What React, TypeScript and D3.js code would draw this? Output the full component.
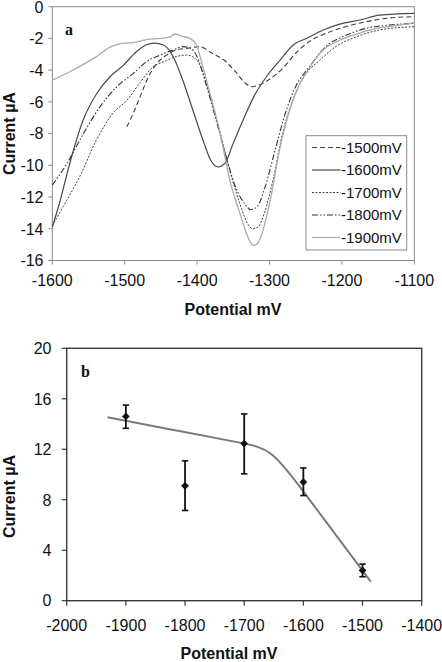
import React from 'react';
import * as d3 from 'd3';

// ---------- Panel a data ----------
const aXTicks = [-1600, -1500, -1400, -1300, -1200, -1100];
const aYTicks = [0, -2, -4, -6, -8, -10, -12, -14, -16];

const s1500: [number, number][] = [
  [-1497, -7.57], [-1488, -6.7], [-1479, -5.7], [-1467, -4.4], [-1456, -3.6], [-1442, -3.05],
  [-1429, -2.73], [-1415, -2.63], [-1397, -2.52], [-1379, -2.94], [-1360, -3.47], [-1347, -4.1],
  [-1333, -4.84], [-1324, -5.05], [-1315, -4.94], [-1301, -4.6], [-1282, -3.9], [-1264, -2.94],
  [-1245, -2.2], [-1222, -1.68], [-1195, -1.26], [-1167, -0.95], [-1140, -0.74], [-1100, -0.63],
];
const s1600: [number, number][] = [
  [-1600, -13.9], [-1589, -12.2], [-1576, -9.9], [-1557, -7.1], [-1539, -5.5], [-1520, -4.4],
  [-1502, -3.7], [-1484, -2.84], [-1470, -2.4], [-1459, -2.3], [-1447, -2.4], [-1433, -3.15],
  [-1420, -4.6], [-1406, -6.5], [-1392, -8.4], [-1381, -9.7], [-1371, -10.1], [-1362, -9.9],
  [-1350, -8.6], [-1336, -7.1], [-1322, -5.7], [-1304, -4.4], [-1286, -3.4], [-1267, -2.4],
  [-1249, -2.0], [-1226, -1.47], [-1203, -1.1], [-1175, -0.84], [-1148, -0.53], [-1100, -0.42],
];
const s1700: [number, number][] = [
  [-1600, -13.8], [-1580, -12.2], [-1562, -10.7], [-1539, -8.4], [-1516, -6.7], [-1497, -5.9],
  [-1479, -4.8], [-1461, -3.8], [-1442, -3.4], [-1429, -3.15], [-1415, -3.05], [-1406, -3.15],
  [-1397, -3.6], [-1383, -5.5], [-1369, -7.8], [-1355, -10.3], [-1341, -12.4], [-1330, -13.7],
  [-1323, -14.0], [-1316, -13.9], [-1307, -13.0], [-1295, -10.9], [-1282, -8.0], [-1268, -5.9],
  [-1249, -4.2], [-1231, -3.4], [-1208, -2.5], [-1180, -1.9], [-1148, -1.47], [-1100, -1.26],
];
const s1800: [number, number][] = [
  [-1600, -11.25], [-1580, -9.9], [-1557, -8.0], [-1534, -6.3], [-1511, -5.05], [-1488, -4.2],
  [-1470, -3.47], [-1451, -3.05], [-1433, -2.73], [-1420, -2.52], [-1409, -2.63], [-1400, -3.15],
  [-1388, -4.84], [-1374, -7.1], [-1360, -9.46], [-1347, -11.35], [-1333, -12.5], [-1326, -12.8],
  [-1317, -12.6], [-1306, -11.35], [-1292, -9.0], [-1278, -6.7], [-1264, -5.05], [-1245, -3.8],
  [-1222, -2.5], [-1199, -1.9], [-1167, -1.37], [-1135, -1.16], [-1100, -1.05],
];
const s1900: [number, number][] = [
  [-1600, -4.63], [-1576, -4.1], [-1539, -3.15], [-1520, -2.55], [-1506, -2.33], [-1488, -2.27],
  [-1470, -2.08], [-1451, -2.0], [-1437, -1.9], [-1431, -1.72], [-1422, -1.85], [-1410, -2.0],
  [-1401, -2.4], [-1392, -3.8], [-1382, -5.5], [-1368, -8.0], [-1355, -10.9], [-1341, -13.0],
  [-1329, -14.6], [-1322, -15.05], [-1316, -14.9], [-1309, -14.1], [-1299, -12.2], [-1286, -9.0],
  [-1272, -6.5], [-1258, -4.84], [-1244, -3.8], [-1226, -2.73], [-1207, -2.2], [-1184, -1.79],
  [-1152, -1.37], [-1120, -1.16], [-1100, -1.0],
];
const aSeriesNames = ['-1500mV', '-1600mV', '-1700mV', '-1800mV', '-1900mV'];
const aSeriesData = [s1500, s1600, s1700, s1800, s1900];

// ---------- Panel b data ----------
const bXTicks = [-2000, -1900, -1800, -1700, -1600, -1500, -1400];
const bYTicks = [0, 4, 8, 12, 16, 20];
const bPotential = [-1900, -1800, -1700, -1600, -1500];
const bCurrent = [14.6, 9.1, 12.45, 9.4, 2.4];
const bErrLow = [13.66, 7.15, 10.05, 8.33, 1.9];
const bErrHigh = [15.5, 11.08, 14.8, 10.52, 2.9];
const bFitX = [-1931, -1931, -1800, -1701, -1654, -1606, -1540, -1486, -1486];
const bFitY = [14.53, 14.53, 13.36, 12.47, 12.04, 9.03, 4.89, 1.5, 1.5];

// ---------- styles ----------
const seriesStyle: Record<string, { color: string; dash: string; width: number }> = {
  '-1500mV': { color: '#3c3c3c', dash: '5,3', width: 1.1 },
  '-1600mV': { color: '#4a4a4a', dash: '', width: 1.2 },
  '-1700mV': { color: '#404040', dash: '2,1.5', width: 1.0 },
  '-1800mV': { color: '#333333', dash: '6,2,1.5,2,1.5,2', width: 1.1 },
  '-1900mV': { color: '#ababab', dash: '', width: 1.3 },
};

const FONT = "'Liberation Sans', Arial, Helvetica, sans-serif";

export default function App() {
  const xA = d3.scaleLinear().domain([-1600, -1100]).range([52.3, 414.3]);
  const yA = d3.scaleLinear().domain([-16, 0]).range([260.5, 6.7]);
  const lineA = d3
    .line<[number, number]>()
    .x((d) => xA(d[0]))
    .y((d) => yA(d[1]))
    .curve(d3.curveMonotoneX);

  const xB = d3.scaleLinear().domain([-2000, -1400]).range([66.7, 421.7]);
  const yB = d3.scaleLinear().domain([0, 20]).range([600.7, 348.3]);
  const fitLine = d3
    .line<number>()
    .x((_, i) => xB(bFitX[i]))
    .y((d) => yB(d))
    .curve(d3.curveBasis);
  const diamond = d3.symbol().type(d3.symbolSquare).size(30)();

  const legX = 306, legY = 135.7, legW = 100.7, legH = 114.3;

  return (
    <svg
      width={442}
      height={662}
      style={{ position: 'absolute', left: 0, top: 0, display: 'block', background: '#fff' }}
      fontFamily={FONT}
    >
      <rect x={0} y={0} width={442} height={662} fill="#fff" />
      {/* ===== Panel a ===== */}
      <g>
        <rect
          x={xA(-1600)}
          y={yA(0)}
          width={xA(-1100) - xA(-1600)}
          height={yA(-16) - yA(0)}
          fill="none"
          stroke="#8a8a8a"
          strokeWidth={1}
        />
        {aYTicks.map((t) => (
          <g key={'ay' + t}>
            <line x1={xA(-1600) - 4} x2={xA(-1600)} y1={yA(t)} y2={yA(t)} stroke="#8a8a8a" />
            <text x={43.5} y={t === 0 ? yA(t) + 0.8 : yA(t)} dy="0.36em" textAnchor="end" fontSize={16} fill="#111">
              {t}
            </text>
          </g>
        ))}
        {aXTicks.map((t) => (
          <g key={'ax' + t}>
            <line x1={xA(t)} x2={xA(t)} y1={yA(-16)} y2={yA(-16) + 4} stroke="#8a8a8a" />
            <text x={xA(t)} y={285.5} textAnchor="middle" fontSize={16} fill="#111">
              {t}
            </text>
          </g>
        ))}
        {aSeriesNames.map((n, i) => {
          const st = seriesStyle[n];
          return (
            <path
              key={n}
              d={lineA(aSeriesData[i]) || ''}
              fill="none"
              stroke={st.color}
              strokeWidth={st.width}
              strokeDasharray={st.dash || undefined}
            />
          );
        })}
        <rect x={legX} y={legY} width={legW} height={legH} fill="#fff" stroke="#8a8a8a" strokeWidth={1} />
        {aSeriesNames.map((n, i) => {
          const st = seriesStyle[n];
          const cy = 147.5 + i * 22.5;
          return (
            <g key={'leg' + n}>
              <line
                x1={312}
                x2={340.5}
                y1={cy}
                y2={cy}
                stroke={st.color}
                strokeWidth={st.width}
                strokeDasharray={st.dash || undefined}
              />
              <text x={341} y={cy} dy="0.36em" fontSize={15} fill="#111">
                {n}
              </text>
            </g>
          );
        })}
        <text x={65} y={35} fontFamily="'Liberation Serif', 'Times New Roman', serif" fontWeight="bold" fontSize={16} fill="#111">
          a
        </text>
        <text x={233} y={315} textAnchor="middle" fontWeight="bold" fontSize={16} fill="#111">
          Potential mV
        </text>
        <text
          transform={`translate(15,${yA(-8)}) rotate(-90)`}
          textAnchor="middle"
          fontWeight="bold"
          fontSize={16}
          fill="#111"
        >
          Current µA
        </text>
      </g>

      {/* ===== Panel b ===== */}
      <g>
        <rect
          x={xB(-2000)}
          y={yB(20)}
          width={xB(-1400) - xB(-2000)}
          height={yB(0) - yB(20)}
          fill="none"
          stroke="#3a3a3a"
          strokeWidth={1.4}
        />
        {bYTicks.map((t) => (
          <g key={'by' + t}>
            <line x1={xB(-2000) - 5} x2={xB(-2000)} y1={yB(t)} y2={yB(t)} stroke="#3a3a3a" strokeWidth={1.2} />
            <text x={51.5} y={yB(t)} dy="0.36em" textAnchor="end" fontSize={16} fill="#111">
              {t}
            </text>
          </g>
        ))}
        {bXTicks.map((t) => (
          <g key={'bx' + t}>
            <line x1={xB(t)} x2={xB(t)} y1={yB(0)} y2={yB(0) + 5} stroke="#3a3a3a" strokeWidth={1.2} />
            <text x={xB(t)} y={630.5} textAnchor="middle" fontSize={16} fill="#111">
              {t}
            </text>
          </g>
        ))}
        <path d={fitLine(bFitY) || ''} fill="none" stroke="#7a7a7a" strokeWidth={2} />
        {bPotential.map((p, i) => {
          const cx = xB(p);
          return (
            <g key={'pt' + p}>
              <line x1={cx} x2={cx} y1={yB(bErrLow[i])} y2={yB(bErrHigh[i])} stroke="#111" strokeWidth={1.8} />
              <line x1={cx - 3.2} x2={cx + 3.2} y1={yB(bErrLow[i])} y2={yB(bErrLow[i])} stroke="#111" strokeWidth={1.6} />
              <line x1={cx - 3.2} x2={cx + 3.2} y1={yB(bErrHigh[i])} y2={yB(bErrHigh[i])} stroke="#111" strokeWidth={1.6} />
              <path d={diamond || ''} transform={`translate(${cx},${yB(bCurrent[i])}) rotate(45)`} fill="#111" />
            </g>
          );
        })}
        <text x={81} y={377} fontFamily="'Liberation Serif', 'Times New Roman', serif" fontWeight="bold" fontSize={16} fill="#111">
          b
        </text>
        <text x={229} y={659} textAnchor="middle" fontWeight="bold" fontSize={16} fill="#111">
          Potential mV
        </text>
        <text
          transform={`translate(15,${yB(10) + 22}) rotate(-90)`}
          textAnchor="middle"
          fontWeight="bold"
          fontSize={16}
          fill="#111"
        >
          Current µA
        </text>
      </g>
    </svg>
  );
}
